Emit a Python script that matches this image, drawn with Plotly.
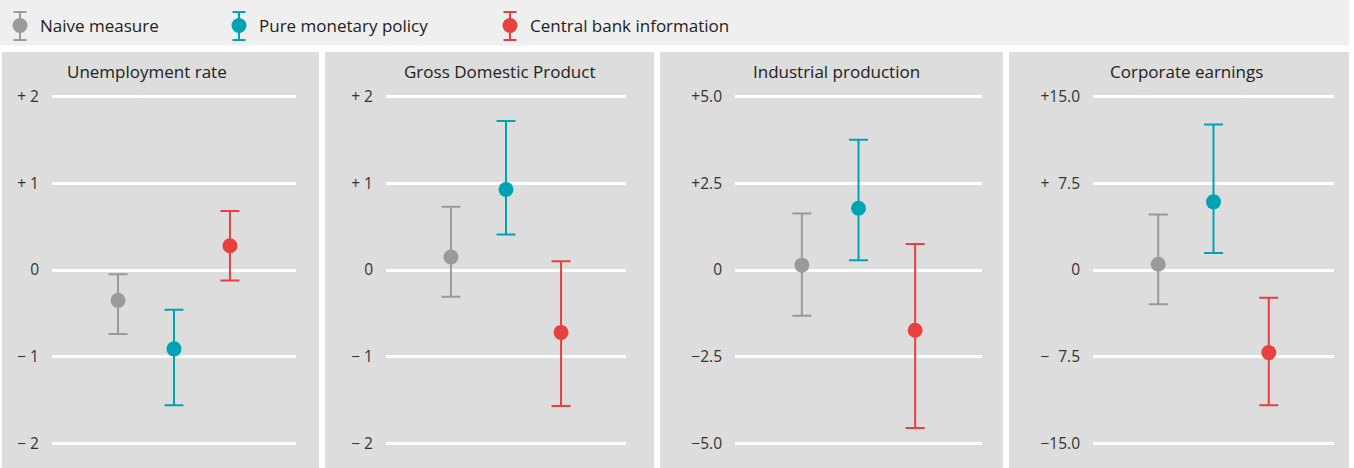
import plotly.graph_objects as go

W, H = 1354, 468

series = ["Naive measure", "Pure monetary policy", "Central bank information"]
colors = ["#9a9a9a", "#00a3b4", "#e8403f"]

panels = ["Unemployment rate", "Gross Domestic Product", "Industrial production", "Corporate earnings"]

# point estimates per panel, per series
estimates = [
    [-0.35, -0.91, 0.28],
    [0.15, 0.93, -0.72],
    [0.14, 1.78, -1.74],
    [0.5, 5.9, -7.15],
]
upper = [
    [-0.05, -0.46, 0.68],
    [0.73, 1.72, 0.10],
    [1.63, 3.76, 0.75],
    [4.8, 12.6, -2.4],
]
lower = [
    [-0.74, -1.56, -0.12],
    [-0.31, 0.41, -1.57],
    [-1.32, 0.28, -4.56],
    [-2.97, 1.48, -11.7],
]

tick_vals = [
    [-2, -1, 0, 1, 2],
    [-2, -1, 0, 1, 2],
    [-5, -2.5, 0, 2.5, 5],
    [-15, -7.5, 0, 7.5, 15],
]
tick_text = [
    ["\u2212\u00a02", "\u2212\u00a01", "0", "+\u00a01", "+\u00a02"],
    ["\u2212\u00a02", "\u2212\u00a01", "0", "+\u00a01", "+\u00a02"],
    ["\u22125.0", "\u22122.5", "0", "+2.5", "+5.0"],
    ["\u221215.0", "\u2212\u20077.5", "0", "+\u20077.5", "+15.0"],
]

# layout (pixels)
panel_px = [(2, 319), (325, 654), (660, 1003), (1009, 1349)]
grid_px = [(52, 296), (386, 626), (735, 982), (1093, 1334)]
title_cx = [147, 499, 836, 1186]
legend_px = [0, 219, 490]
ydom_px = (90, 450)

def px_x(p):
    return p / W

def px_y(p):
    return 1 - p / H

fig = go.Figure()

shapes = [
    dict(type="rect", xref="paper", yref="paper", x0=0, x1=px_x(1349), y0=px_y(45.5), y1=1,
         fillcolor="#efefef", line=dict(width=0), layer="below"),
]
for (a, b) in panel_px:
    shapes.append(dict(type="rect", xref="paper", yref="paper", x0=px_x(a), x1=px_x(b),
                       y0=0, y1=px_y(52), fillcolor="#dcdddc", line=dict(width=0), layer="below"))

# error-bar glyphs behind the legend markers
for j, lx in enumerate(legend_px):
    cx = lx + 20
    ln = dict(color=colors[j], width=2)
    shapes.append(dict(type="line", xref="paper", yref="paper", x0=px_x(cx), x1=px_x(cx),
                       y0=px_y(12), y1=px_y(40), line=ln, layer="above"))
    for yy in (12, 40):
        shapes.append(dict(type="line", xref="paper", yref="paper", x0=px_x(cx - 6.5), x1=px_x(cx + 6.5),
                           y0=px_y(yy), y1=px_y(yy), line=ln, layer="above"))

annotations = []
legend_names = ["legend", "legend2", "legend3"]
for i, name in enumerate(panels):
    xa = "x" if i == 0 else f"x{i+1}"
    ya = "y" if i == 0 else f"y{i+1}"
    for j, s in enumerate(series):
        fig.add_trace(go.Scatter(
            x=[j], y=[estimates[i][j]], mode="markers",
            marker=dict(color=colors[j], size=15, line=dict(width=0)),
            error_y=dict(type="data", symmetric=False,
                         array=[upper[i][j] - estimates[i][j]],
                         arrayminus=[estimates[i][j] - lower[i][j]],
                         color=colors[j], thickness=2, width=9.5),
            name=s, legendgroup=s, showlegend=(i == 0), legend=legend_names[j],
            xaxis=xa, yaxis=ya, hoverinfo="skip",
        ))
    annotations.append(dict(text=name, xref="paper", yref="paper", x=px_x(title_cx[i]), y=px_y(71.5),
                            xanchor="center", yanchor="middle", showarrow=False,
                            font=dict(size=17, color="#222222")))

layout = dict(
    width=W, height=H, margin=dict(l=0, r=0, t=0, b=0, autoexpand=False),
    paper_bgcolor="white", plot_bgcolor="rgba(0,0,0,0)",
    font=dict(family="Open Sans", color="#333333"),
    shapes=shapes, annotations=annotations,
    showlegend=True,
)
for j, ln in enumerate(legend_names):
    layout[ln] = dict(orientation="h", x=px_x(legend_px[j]), y=px_y(26), xanchor="left", yanchor="middle",
                      xref="container", yref="container",
                      bgcolor="rgba(0,0,0,0)", font=dict(size=17, color="#222222"),
                      itemclick=False, itemdoubleclick=False)
for i in range(4):
    sfx = "" if i == 0 else str(i + 1)
    g0, g1 = grid_px[i]
    top = tick_vals[i][-1]
    scale = (270 - ydom_px[0]) / (443.3 - 270) * top
    layout[f"xaxis{sfx}"] = dict(domain=[px_x(g0), px_x(g1)], range=[-1.18, 3.18],
                                 showgrid=False, zeroline=False, showticklabels=False,
                                 fixedrange=True, anchor=f"y{sfx}")
    layout[f"yaxis{sfx}"] = dict(domain=[px_y(ydom_px[1]), px_y(ydom_px[0])],
                                 range=[-scale, scale], tickvals=tick_vals[i], ticktext=tick_text[i],
                                 showgrid=True, gridcolor="white", gridwidth=2.5, zeroline=False,
                                 ticks="", ticklabelstandoff=12, tickfont=dict(size=15.5, color="#333333"),
                                 fixedrange=True, anchor=f"x{sfx}")
fig.update_layout(**layout)
fig.write_html("out.html")
